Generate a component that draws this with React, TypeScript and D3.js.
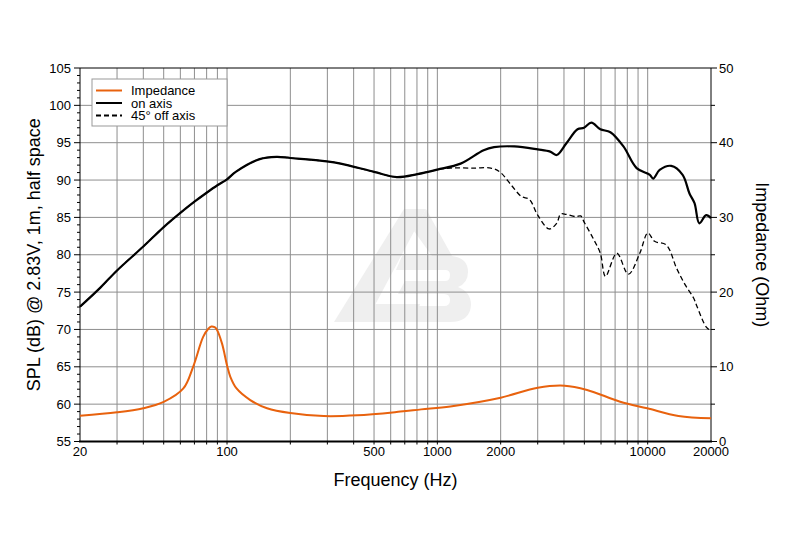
import React, { useRef, useEffect } from "react";
import * as d3 from "d3";

// on-axis SPL (dB)
const onAxisFreq = [
  20, 25, 30, 40, 50, 60, 70, 80, 90, 100, 110, 143, 172, 200, 298, 347, 500,
  641, 805, 1000, 1290, 1660, 1860, 2324, 3000, 3438, 3690, 4100, 4640, 4980,
  5400, 5955, 6650, 7670, 8860, 10240, 10620, 11400, 12940, 14660, 15800, 16700,
  17600, 18960, 20000,
];
const onAxisSpl = [
  73.05, 75.6, 77.9, 81.1, 83.7, 85.6, 87.1, 88.3, 89.3, 90.1, 91.1, 92.8, 93.1,
  92.95, 92.5, 92.2, 91.1, 90.4, 90.8, 91.4, 92.2, 94.0, 94.4, 94.5, 94.1, 93.8,
  93.35, 94.9, 96.8, 97.0, 97.7, 96.8, 96.4, 94.5, 91.6, 90.7, 90.2, 91.35, 91.9,
  90.7, 88.2, 86.9, 84.2, 85.3, 84.9,
];

// 45° off axis SPL (dB), above the split from on-axis
const offAxisFreq = [
  1000, 1150, 1500, 1796, 1980, 2250, 2510, 2740, 3000, 3400, 3690, 3860, 4100,
  4560, 4800, 4980, 5550, 5955, 6300, 7130, 8100, 9170, 10020, 10780, 12270,
  13720, 15060, 16530, 17200, 19000, 20000,
];
const offAxisSpl = [
  91.4, 91.6, 91.6, 91.6, 91.1, 89.3, 87.8, 87.4, 85.3, 83.45, 84.2, 85.45, 85.4,
  85.1, 85.2, 84.4, 82.0, 80.2, 77.1, 80.2, 77.4, 80.2, 82.9, 81.8, 81.3, 78.2,
  76.0, 74.2, 73.0, 70.3, 69.8,
];

// impedance (Ohm)
const impFreq = [
  20, 30, 40, 50, 62, 69, 77, 81.5, 84.3, 87.3, 89.4, 94.7, 100, 103.6, 111, 129,
  155, 200, 288, 416, 667, 838, 1153, 2000, 3000, 4030, 5150, 7400, 9950, 14000,
  20000,
];
const impOhm = [
  3.45, 3.9, 4.45, 5.3, 7.1, 10.0, 14.0, 15.1, 15.4, 15.3, 15.0, 13.1, 10.2, 8.7,
  7.1, 5.55, 4.45, 3.8, 3.4, 3.5, 4.0, 4.3, 4.7, 5.87, 7.2, 7.47, 6.9, 5.33, 4.44,
  3.41, 3.1,
];

const xTickLabels = [20, 100, 500, 1000, 2000, 10000, 20000];
const splTicks = [55, 60, 65, 70, 75, 80, 85, 90, 95, 100, 105];
const ohmTicks = [0, 10, 20, 30, 40, 50];

const legendItems = [
  { label: "Impedance", color: "#e8620e", dash: "" },
  { label: "on axis", color: "#000", dash: "" },
  { label: "45° off axis", color: "#000", dash: "5,3" },
];

const FONT = "'Liberation Sans', Arial, Helvetica, sans-serif";

const App: React.FC = () => {
  const svgRef = useRef<SVGSVGElement | null>(null);

  useEffect(() => {
    if (!svgRef.current) return;
    const svg = d3.select(svgRef.current);
    svg.selectAll("*").remove();

    const width = 800;
    const height = 534;
    const left = 80;
    const right = 711;
    const top = 68;
    const bottom = 441.5;

    svg.attr("width", width).attr("height", height).style("background", "#fff");

    const x = d3.scaleLog().domain([20, 20000]).range([left, right]);
    const y = d3.scaleLinear().domain([55, 105]).range([bottom, top]);
    const yR = d3.scaleLinear().domain([0, 50]).range([bottom, top]);

    // watermark logo
    const wm = svg.append("g").attr("fill", "#efefef");
    wm.append("path").attr("d", "M404,209 L426,209 L366,322 L334,322 Z");
    wm.append("path").attr("d", "M350,304 L420,304 L414,322 L340,322 Z");
    wm.append("path").attr("d", "M426,209 L452,256 L432,256 L414,231 Z");
    wm.append("path").attr(
      "d",
      "M402,256 L452,256 Q468,258 468,272 Q468,283 458,287 Q471,292 471,305 Q470,322 450,322 L384,322 L392,306 L444,306 Q450,306 450,300 Q450,294 444,294 L398,294 L405,281 L445,281 Q450,281 450,275 Q450,270 445,270 L396,270 Z"
    );

    // grid
    const minorFreqs: number[] = [];
    for (const dec of [10, 100, 1000, 10000]) {
      for (let k = 1; k <= 9; k++) {
        const f = dec * k;
        if (f > 20 && f < 20000) minorFreqs.push(f);
      }
    }
    const grid = svg.append("g");
    grid
      .selectAll("line.v")
      .data(minorFreqs)
      .enter()
      .append("line")
      .attr("x1", (d) => x(d))
      .attr("x2", (d) => x(d))
      .attr("y1", top)
      .attr("y2", bottom)
      .attr("stroke", "#8e8e8e")
      .attr("stroke-width", 1);
    grid
      .selectAll("line.h")
      .data(splTicks.slice(1, -1))
      .enter()
      .append("line")
      .attr("x1", left)
      .attr("x2", right)
      .attr("y1", (d) => y(d))
      .attr("y2", (d) => y(d))
      .attr("stroke", "#8e8e8e")
      .attr("stroke-width", 1);

    // frame
    svg
      .append("line")
      .attr("x1", left)
      .attr("x2", right)
      .attr("y1", top)
      .attr("y2", top)
      .attr("stroke", "#000");

    // left axis
    const ax = svg.append("g").attr("font-family", FONT).attr("font-size", 13);
    ax.append("line")
      .attr("x1", left)
      .attr("x2", left)
      .attr("y1", top)
      .attr("y2", bottom)
      .attr("stroke", "#000");
    ax.selectAll("line.lt")
      .data(d3.range(55, 106))
      .enter()
      .append("line")
      .attr("x1", (d) => (d % 5 === 0 ? left - 6 : left - 3))
      .attr("x2", left)
      .attr("y1", (d) => y(d))
      .attr("y2", (d) => y(d))
      .attr("stroke", "#000");
    ax.selectAll("text.lt")
      .data(splTicks)
      .enter()
      .append("text")
      .attr("x", left - 9)
      .attr("y", (d) => y(d) + 4.6)
      .attr("text-anchor", "end")
      .text((d) => d);

    // right axis
    ax.append("line")
      .attr("x1", right)
      .attr("x2", right)
      .attr("y1", top)
      .attr("y2", bottom)
      .attr("stroke", "#000");
    ax.selectAll("line.rt")
      .data(d3.range(0, 51, 5))
      .enter()
      .append("line")
      .attr("x1", right)
      .attr("x2", (d) => (d % 10 === 0 ? right + 6 : right + 4))
      .attr("y1", (d) => yR(d))
      .attr("y2", (d) => yR(d))
      .attr("stroke", "#000");
    ax.selectAll("text.rt")
      .data(ohmTicks)
      .enter()
      .append("text")
      .attr("x", right + 8)
      .attr("y", (d) => yR(d) + 4.6)
      .attr("text-anchor", "start")
      .text((d) => d);

    // bottom axis
    ax.append("line")
      .attr("x1", left - 1)
      .attr("x2", right + 1)
      .attr("y1", bottom)
      .attr("y2", bottom)
      .attr("stroke", "#000")
      .attr("stroke-width", 2);
    ax.selectAll("line.bt")
      .data(minorFreqs)
      .enter()
      .append("line")
      .attr("x1", (d) => x(d))
      .attr("x2", (d) => x(d))
      .attr("y1", bottom)
      .attr("y2", bottom + 3)
      .attr("stroke", "#000");
    ax.selectAll("text.bt")
      .data(xTickLabels)
      .enter()
      .append("text")
      .attr("x", (d) => x(d))
      .attr("y", 456)
      .attr("text-anchor", "middle")
      .text((d) => d);

    // titles
    const tt = svg.append("g").attr("font-family", FONT).attr("font-size", 18);
    tt.append("text")
      .attr("transform", `translate(40,${(top + bottom) / 2}) rotate(-90)`)
      .attr("text-anchor", "middle")
      .text("SPL (dB) @ 2.83V, 1m, half space");
    tt.append("text")
      .attr("transform", `translate(756,${(top + bottom) / 2}) rotate(90)`)
      .attr("text-anchor", "middle")
      .text("Impedance (Ohm)");
    tt.append("text")
      .attr("x", (left + right) / 2)
      .attr("y", 486)
      .attr("text-anchor", "middle")
      .text("Frequency (Hz)");

    // curves
    const splLine = d3
      .line<[number, number]>()
      .x((d) => x(d[0]))
      .y((d) => y(d[1]))
      .curve(d3.curveCatmullRom.alpha(0.5));
    const ohmLine = d3
      .line<[number, number]>()
      .x((d) => x(d[0]))
      .y((d) => yR(d[1]))
      .curve(d3.curveCatmullRom.alpha(0.5));

    const onPts = onAxisFreq.map((f, i) => [f, onAxisSpl[i]] as [number, number]);
    const offPts = [
      ...onPts.filter((p) => p[0] < offAxisFreq[0]),
      ...offAxisFreq.map((f, i) => [f, offAxisSpl[i]] as [number, number]),
    ];
    const impPts = impFreq.map((f, i) => [f, impOhm[i]] as [number, number]);

    svg
      .append("path")
      .attr("d", ohmLine(impPts))
      .attr("fill", "none")
      .attr("stroke", "#e8620e")
      .attr("stroke-width", 2);
    svg
      .append("path")
      .attr("d", splLine(offPts))
      .attr("fill", "none")
      .attr("stroke", "#000")
      .attr("stroke-width", 1.3)
      .attr("stroke-dasharray", "5,3");
    svg
      .append("path")
      .attr("d", splLine(onPts))
      .attr("fill", "none")
      .attr("stroke", "#000")
      .attr("stroke-width", 2.2);

    // legend
    const lg = svg.append("g").attr("font-family", FONT).attr("font-size", 13);
    lg.append("rect")
      .attr("x", 92)
      .attr("y", 79)
      .attr("width", 135)
      .attr("height", 47)
      .attr("fill", "#fff")
      .attr("stroke", "#999");
    legendItems.forEach((it, i) => {
      const cy = 90.5 + i * 12.5;
      lg.append("line")
        .attr("x1", 96)
        .attr("x2", 122)
        .attr("y1", cy)
        .attr("y2", cy)
        .attr("stroke", it.color)
        .attr("stroke-width", 2)
        .attr("stroke-dasharray", it.dash || null);
      lg.append("text")
        .attr("x", 131)
        .attr("y", cy + 4.5)
        .text(it.label);
    });
  }, []);

  return (
    <svg
      ref={svgRef}
      style={{ position: "absolute", left: 0, top: 0, display: "block" }}
    ></svg>
  );
};

export default App;
